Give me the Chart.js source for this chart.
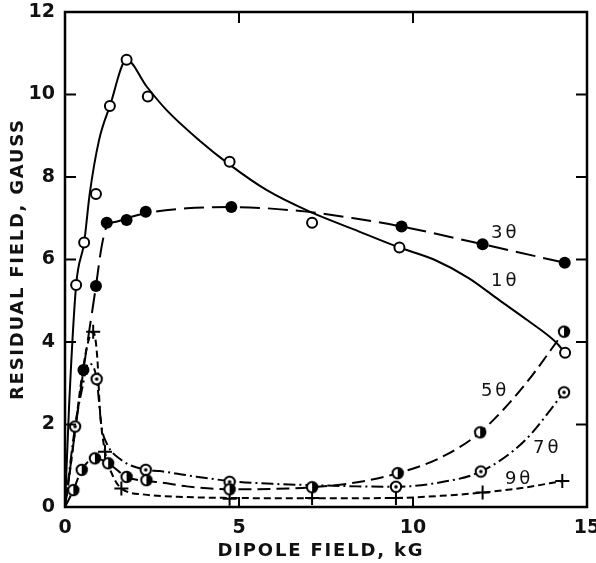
<!DOCTYPE html>
<html>
<head>
<meta charset="utf-8">
<script src="https://cdn.jsdelivr.net/npm/chart.js@4.4.0/dist/chart.umd.min.js"></script>
<style>
  html, body { margin: 0; padding: 0; background: #fff; }
</style>
</head>
<body>
<canvas id="grafico" width="596" height="563"></canvas>
<script>
// ... valores (campo dipolar em kG, campo residual em gauss)

// 1 theta - circulos abertos, linha cheia
const pontos1X = [0.32, 0.55, 0.89, 1.29, 1.77, 2.38, 4.73, 7.1, 9.61, 14.37];
const pontos1Y = [5.38, 6.41, 7.59, 9.72, 10.84, 9.95, 8.37, 6.89, 6.29, 3.74];
const curva1X = [0, 0.12, 0.32, 0.55, 0.71, 0.98, 1.29, 1.77, 2.34, 2.92, 3.87, 4.73, 5.8, 7.03, 8.3, 9.61, 10.6, 11.6, 12.47, 13.3, 14.1, 14.37];
const curva1Y = [0, 2.5, 5.38, 6.41, 7.59, 8.9, 9.72, 10.84, 10.2, 9.62, 8.88, 8.3, 7.68, 7.16, 6.73, 6.29, 6.0, 5.55, 5.02, 4.52, 4.0, 3.74];

// 3 theta - circulos cheios, tracejado longo
const pontos3X = [0.53, 0.89, 1.2, 1.77, 2.32, 4.78, 9.67, 12.0, 14.36];
const pontos3Y = [3.32, 5.36, 6.89, 6.96, 7.16, 7.27, 6.8, 6.37, 5.92];
const curva3X = [0, 0.53, 0.89, 1.05, 1.2, 1.5, 1.77, 2.32, 3.5, 4.78, 6.7, 8.3, 9.67, 12.0, 14.36];
const curva3Y = [0, 3.32, 5.36, 6.3, 6.8, 6.92, 7.0, 7.12, 7.24, 7.27, 7.18, 7.0, 6.8, 6.37, 5.92];

// 5 theta - meio cheios, tracejado
const pontos5X = [0.24, 0.48, 0.86, 1.24, 1.77, 2.34, 4.73, 7.1, 9.56, 11.93, 14.34];
const pontos5Y = [0.41, 0.9, 1.18, 1.06, 0.73, 0.65, 0.43, 0.48, 0.82, 1.81, 4.25];
const curva5X = [0, 0.24, 0.48, 0.86, 1.24, 1.77, 2.34, 2.72, 3.5, 4.73, 6, 7.1, 8.4, 9.56, 10.8, 11.93, 13.2, 14.34];
const curva5Y = [0, 0.41, 0.9, 1.18, 1.06, 0.73, 0.63, 0.6, 0.5, 0.43, 0.44, 0.48, 0.6, 0.82, 1.2, 1.81, 2.95, 4.25];

// 7 theta - alvo, traco-ponto
const pontos7X = [0.29, 0.91, 2.32, 4.73, 9.51, 11.95, 14.34];
const pontos7Y = [1.95, 3.1, 0.9, 0.61, 0.49, 0.86, 2.78];
const curva7X = [0, 0.29, 0.5, 0.67, 0.8, 0.91, 1.05, 1.2, 1.62, 2.32, 2.72, 3.5, 4.73, 6, 7.1, 8.4, 9.51, 10.8, 11.95, 13.2, 14.34];
const curva7Y = [0, 1.95, 2.9, 3.48, 3.42, 3.1, 1.95, 1.54, 1.14, 0.9, 0.87, 0.77, 0.63, 0.56, 0.53, 0.5, 0.49, 0.6, 0.86, 1.6, 2.78];

// 9 theta - cruzes, tracejado curto
const pontos9X = [0.81, 1.15, 1.62, 4.73, 7.1, 9.51, 12.0, 14.29];
const pontos9Y = [4.25, 1.34, 0.45, 0.2, 0.22, 0.22, 0.35, 0.63];
const curva9X = [0, 0.81, 0.93, 1.0, 1.15, 1.35, 1.62, 2.3, 3.5, 4.73, 7.1, 9.51, 10.8, 12.0, 13.2, 14.29];
const curva9Y = [0, 4.25, 3.6, 2.4, 1.34, 0.8, 0.45, 0.3, 0.24, 0.22, 0.21, 0.22, 0.27, 0.35, 0.47, 0.63];

// rotulos das curvas
const rotulos = ["3θ", "1θ", "5θ", "7θ", "9θ"];
const rotulosX = [12.65, 12.65, 12.36, 13.86, 13.05];
const rotulosY = [6.63, 5.48, 2.81, 1.42, 0.67];

const ticksX = [0, 5, 10, 15];
const ticksY = [0, 2, 4, 6, 8, 10, 12];

const FONTE = "'DejaVu Sans', sans-serif";

function pares(xs, ys) {
  return xs.map((x, i) => ({ x: x, y: ys[i] }));
}

// marcadores desenhados num canvas pequeno
function marcador(tipo) {
  const c = document.createElement("canvas");
  c.width = 16;
  c.height = 16;
  const g = c.getContext("2d");
  g.lineWidth = 2;
  g.strokeStyle = "#000";
  g.fillStyle = "#fff";
  g.beginPath();
  g.arc(8, 8, 5.2, 0, Math.PI * 2);
  g.fill();
  g.fillStyle = "#000";
  if (tipo === "meio") {
    g.beginPath();
    g.arc(8, 8, 5.2, -Math.PI / 2, Math.PI / 2);
    g.closePath();
    g.fill();
  }
  if (tipo === "alvo") {
    g.beginPath();
    g.arc(8, 8, 1.8, 0, Math.PI * 2);
    g.fill();
  }
  g.beginPath();
  g.arc(8, 8, 5.2, 0, Math.PI * 2);
  g.stroke();
  return c;
}

function curva(xs, ys, dash) {
  return {
    data: pares(xs, ys),
    showLine: true,
    borderColor: "#000",
    borderWidth: 2,
    borderDash: dash,
    pointRadius: 0,
    cubicInterpolationMode: "monotone",
    order: 2,
  };
}

function pontos(xs, ys, extra) {
  return Object.assign({
    data: pares(xs, ys),
    showLine: false,
    borderColor: "#000",
    order: 1,
  }, extra);
}

// moldura, ticks para dentro, titulos e rotulos
const moldura = {
  id: "moldura",
  afterDraw(chart) {
    const ctx = chart.ctx;
    const a = chart.chartArea;
    const sx = chart.scales.x;
    const sy = chart.scales.y;
    ctx.save();
    ctx.strokeStyle = "#000";
    ctx.lineWidth = 2.5;
    ctx.strokeRect(a.left, a.top, a.right - a.left, a.bottom - a.top);

    ctx.lineWidth = 2;
    ctx.beginPath();
    ticksY.slice(1, -1).forEach((v) => {
      const py = sy.getPixelForValue(v);
      ctx.moveTo(a.left, py); ctx.lineTo(a.left + 11, py);
      ctx.moveTo(a.right, py); ctx.lineTo(a.right - 11, py);
    });
    ticksX.slice(1, -1).forEach((v) => {
      const px = sx.getPixelForValue(v);
      ctx.moveTo(px, a.bottom); ctx.lineTo(px, a.bottom - 10);
      ctx.moveTo(px, a.top); ctx.lineTo(px, a.top + 11);
    });
    ctx.stroke();

    ctx.fillStyle = "#111";
    ctx.textBaseline = "middle";
    ctx.textAlign = "left";

    // rotulos das curvas
    ctx.font = "18px " + FONTE;
    ctx.letterSpacing = "3px";
    rotulos.forEach((t, i) => {
      const w = ctx.measureText(t).width;
      ctx.fillText(t, sx.getPixelForValue(rotulosX[i]) - w / 2, sy.getPixelForValue(rotulosY[i]));
    });

    // titulos dos eixos com espacamento entre letras
    function titulo(texto, largura) {
      ctx.font = "bold 18px " + FONTE;
      ctx.letterSpacing = "0px";
      const w0 = ctx.measureText(texto).width;
      const esp = (largura - w0) / (texto.length - 1);
      ctx.letterSpacing = esp + "px";
      ctx.fillText(texto, -largura / 2, 0);
    }
    ctx.save();
    ctx.translate(320, 551);
    titulo("DIPOLE FIELD, kG", 205);
    ctx.restore();
    ctx.save();
    ctx.translate(18, 260);
    ctx.rotate(-Math.PI / 2);
    titulo("RESIDUAL FIELD, GAUSS", 280);
    ctx.restore();
    ctx.restore();
  },
};

const ctx = document.getElementById("grafico").getContext("2d");
const myChart = new Chart(ctx, {
  type: "scatter",
  data: {
    datasets: [
      pontos(pontos1X, pontos1Y, { pointStyle: "circle", pointRadius: 5, pointBorderWidth: 2, pointBackgroundColor: "#fff" }),
      pontos(pontos3X, pontos3Y, { pointStyle: "circle", pointRadius: 6, pointBorderWidth: 0, pointBackgroundColor: "#000" }),
      pontos(pontos5X, pontos5Y, { pointStyle: marcador("meio") }),
      pontos(pontos7X, pontos7Y, { pointStyle: marcador("alvo") }),
      pontos(pontos9X, pontos9Y, { pointStyle: "cross", pointRadius: 7, pointBorderWidth: 2 }),
      curva(curva1X, curva1Y, []),
      curva(curva3X, curva3Y, [20, 8]),
      curva(curva5X, curva5Y, [13, 6]),
      curva(curva7X, curva7Y, [12, 4, 2, 4]),
      curva(curva9X, curva9Y, [7, 4]),
    ],
  },
  options: {
    responsive: false,
    animation: false,
    clip: false,
    layout: { padding: { top: 12, right: 8, left: 0, bottom: 0 } },
    plugins: { legend: { display: false }, tooltip: { enabled: false } },
    scales: {
      x: {
        type: "linear",
        min: 0,
        max: 15,
        afterBuildTicks: (s) => { s.ticks = ticksX.map((v) => ({ value: v })); },
        afterFit: (s) => { s.height = 56; s.paddingLeft = 0; s.paddingRight = 0; },
        ticks: { color: "#111", padding: 10, font: { family: FONTE, size: 19, weight: "bold" } },
        grid: { display: false, drawTicks: false },
        border: { display: false },
      },
      y: {
        type: "linear",
        min: 0,
        max: 12,
        afterBuildTicks: (s) => { s.ticks = ticksY.map((v) => ({ value: v })); },
        afterFit: (s) => { s.width = 65; s.paddingTop = 0; s.paddingBottom = 0; },
        ticks: { color: "#111", padding: 10, font: { family: FONTE, size: 19, weight: "bold" } },
        grid: { display: false, drawTicks: false },
        border: { display: false },
      },
    },
  },
  plugins: [moldura],
});
</script>
</body>
</html>
